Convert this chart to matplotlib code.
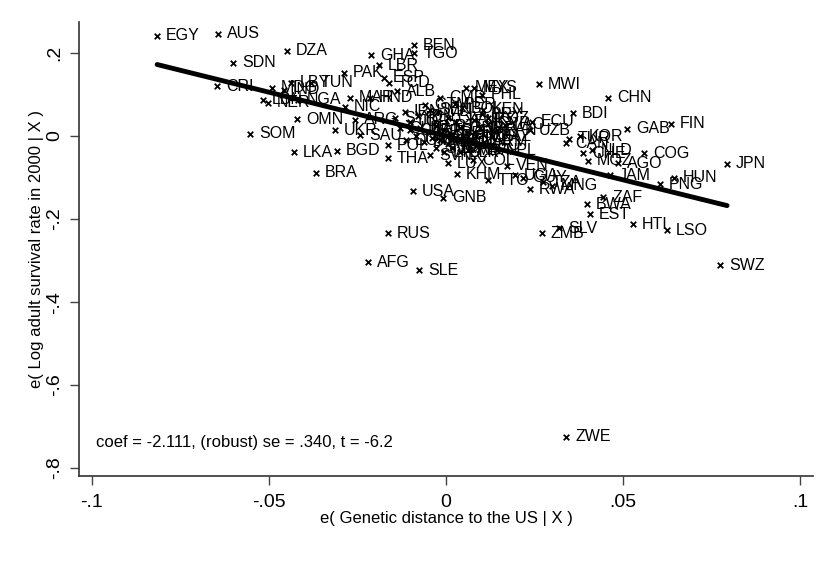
import numpy as np
import matplotlib
matplotlib.use("Agg")
import matplotlib.pyplot as plt

plt.rcParams['font.family'] = ['Liberation Sans', 'DejaVu Sans']

# --- residuals (added-variable plot) ---
codes = ["EGY", "AUS", "DZA", "SDN", "CRI", "MDG", "IND", "LBY", "TUN", "LBN",
         "NER", "NGA", "OMN", "SOM", "LKA", "BGD", "BRA", "UKR", "ARG", "SAU",
         "POL", "THA", "PAK", "GHA", "BEN", "TGO", "LBR", "ESP", "TCD", "ALB",
         "MAR", "HND", "NIC", "CMR", "MEX", "PHL", "KEN", "LAO", "ECU", "UZB",
         "NPL", "VEN", "COL", "LUX", "SVN", "KHM", "TTO", "USA", "GNB", "UGA",
         "GUY", "RWA", "TZA", "MNG", "MWI", "CHN", "BDI", "GAB", "FIN", "TUR",
         "KOR", "CAN", "CHE", "NLD", "COG", "MOZ", "AGO", "JAM", "PNG", "HUN",
         "JPN", "ZAF", "BWA", "EST", "HTI", "LSO", "ZMB", "SLV", "SWZ", "RUS",
         "AFG", "SLE", "ZWE",
         "IRN", "SYR", "JOR", "IDN", "MYS", "PER", "BOL", "GTM", "SEN", "MLI",
         "CIV", "YEM", "ITA", "GRC", "PRT", "FRA", "DEU", "GBR", "SWE", "NOR",
         "DNK", "AUT", "BEL", "IRL", "NZL", "ISR", "CYP", "ROM", "BGR", "HRV",
         "CZE", "SVK", "LTU", "LVA", "BLR", "MDA", "GEO", "ARM", "KAZ", "KGZ",
         "CUB", "DOM", "PAN", "URY", "PRY"]

gen_dist = [-0.0816, -0.0644, -0.0449, -0.0602, -0.0647, -0.0492, -0.0458, -0.0438, -0.0380, -0.0517,
            -0.0503, -0.0418, -0.0421, -0.0554, -0.0429, -0.0308, -0.0367, -0.0314, -0.0257, -0.0243,
            -0.0164, -0.0164, -0.0288, -0.0212, -0.0090, -0.0090, -0.0189, -0.0175, -0.0161, -0.0138,
            -0.0271, -0.0215, -0.0285, -0.0017, 0.0056, 0.0102, 0.0105, 0.0167, 0.0243, 0.0237,
            0.0144, 0.0172, 0.0076, 0.0006, -0.0045, 0.0031, 0.0119, -0.0093, -0.0008, 0.0195,
            0.0218, 0.0237, 0.0274, 0.0299, 0.0263, 0.0458, 0.0359, 0.0511, 0.0636, 0.0347,
            0.0379, 0.0339, 0.0387, 0.0412, 0.0559, 0.0401, 0.0486, 0.0463, 0.0605, 0.0644,
            0.0794, 0.0444, 0.0398, 0.0407, 0.0528, 0.0624, 0.0271, 0.0319, 0.0774, -0.0164,
            -0.0220, -0.0076, 0.0339,
            -0.0116, -0.0144, -0.0102, -0.0079, 0.0079, 0.0025, 0.0045, -0.0059, -0.0045, -0.0023,
            0.0006, 0.0028, -0.0073, -0.0051, -0.0028, -0.0006, 0.0017, 0.0040, 0.0062, 0.0085,
            -0.0017, 0.0006, 0.0028, 0.0051, 0.0073, 0.0096, 0.0119, -0.0040, -0.0062, -0.0085,
            -0.0102, -0.0028, -0.0006, 0.0017, 0.0040, 0.0062, 0.0085, 0.0107, 0.0130, 0.0119,
            -0.0130, -0.0113, 0.0144, 0.0079, 0.0102]

log_surv = [0.241, 0.246, 0.205, 0.176, 0.120, 0.116, 0.111, 0.128, 0.128, 0.087,
            0.080, 0.087, 0.041, 0.005, -0.039, -0.036, -0.089, 0.014, 0.039, 0.002,
            -0.022, -0.053, 0.152, 0.195, 0.219, 0.200, 0.171, 0.140, 0.128, 0.108,
            0.092, 0.092, 0.070, 0.092, 0.116, 0.099, 0.063, 0.027, 0.034, 0.014,
            -0.034, -0.072, -0.058, -0.065, -0.046, -0.092, -0.106, -0.133, -0.149, -0.094,
            -0.101, -0.128, -0.111, -0.120, 0.125, 0.092, 0.055, 0.017, 0.029, -0.007,
            0.000, -0.017, -0.041, -0.034, -0.041, -0.060, -0.065, -0.094, -0.116, -0.101,
            -0.067, -0.147, -0.164, -0.188, -0.212, -0.227, -0.234, -0.222, -0.311, -0.234,
            -0.304, -0.323, -0.725,
            0.058, 0.043, 0.034, 0.048, 0.116, 0.077, 0.067, 0.075, 0.063, 0.058,
            0.043, 0.034, 0.019, 0.010, 0.024, 0.014, 0.005, 0.019, 0.010, 0.000,
            -0.010, -0.019, -0.010, -0.019, -0.010, 0.019, 0.029, -0.005, -0.014, 0.000,
            0.014, -0.029, -0.039, -0.029, -0.039, -0.034, -0.024, -0.014, 0.000, 0.043,
            0.019, -0.010, 0.014, 0.039, 0.053]

coef = -2.111
note = "coef = -2.111, (robust) se = .340, t = -6.2"

xticks = [-0.1, -0.05, 0, 0.05, 0.1]
xticklabels = ["-.1", "-.05", "0", ".05", ".1"]
yticks = [-0.8, -0.6, -0.4, -0.2, 0, 0.2]
yticklabels = ["-.8", "-.6", "-.4", "-.2", "0", ".2"]

W, H = 837, 571
fig = plt.figure(figsize=(W / 100, H / 100), dpi=100)
ax = fig.add_axes([79 / W, 1 - 476 / H, (813 - 79) / W, (476 - 22) / H])

ax.scatter(gen_dist, log_surv, marker="x", s=16, color="black", linewidths=1.3, zorder=2)
for c, x, y in zip(codes, gen_dist, log_surv):
    ax.annotate(c, (x, y), xytext=(6.5, 0), textcoords="offset points",
                fontsize=11.5, va="center", ha="left", zorder=2)

# fitted line
xs = np.array([min(gen_dist), max(gen_dist)])
ax.plot(xs, coef * xs, color="black", lw=3.5, solid_capstyle="round", zorder=3)

ax.text(0.023, 0.073, note, transform=ax.transAxes, fontsize=12, va="center")

ax.set_xlim(-0.10367, 0.10367)
ax.set_ylim(-0.819, 0.2747)
ax.set_xticks(xticks)
ax.set_xticklabels(xticklabels)
ax.set_yticks(yticks)
ax.set_yticklabels(yticklabels, rotation=90, va="center")
ax.tick_params(axis="both", length=6.5, width=1, color="#444444", labelsize=14)
ax.tick_params(axis="x", pad=6.5)
ax.tick_params(axis="y", pad=5)

for s in ["top", "right"]:
    ax.spines[s].set_visible(False)
for s in ["left", "bottom"]:
    ax.spines[s].set_color("#333333")
    ax.spines[s].set_linewidth(1.2)

ax.set_xlabel("e( Genetic distance to the US | X )", fontsize=12)
ax.set_ylabel("e( Log adult survival rate in 2000 | X )", fontsize=12)
ax.xaxis.set_label_coords(0.5, -0.077)
ax.yaxis.set_label_coords(-0.048, 0.5)

fig.savefig("out.png", dpi=100, facecolor="white")
